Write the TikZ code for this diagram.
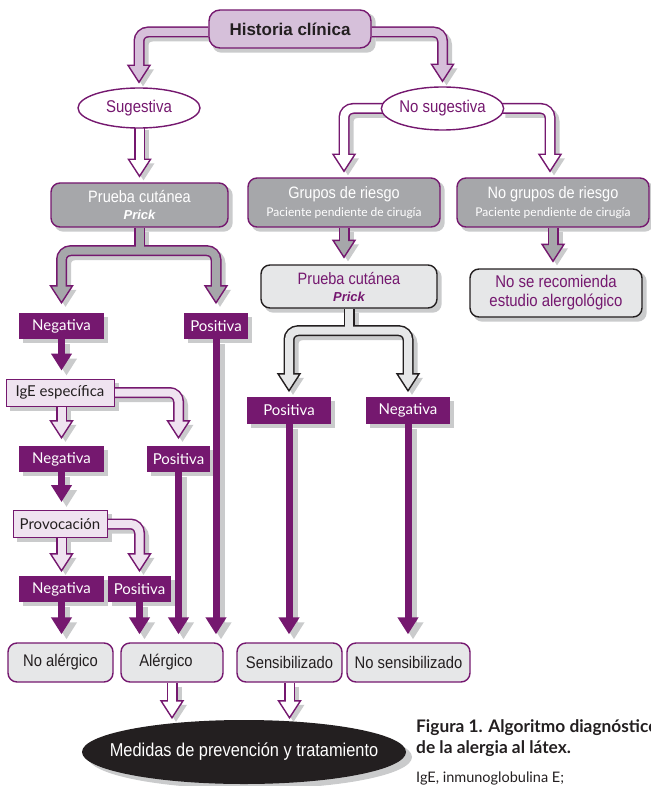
\documentclass[tikz,border=0pt]{standalone}
\usepackage{fontspec}
\setmainfont{Liberation Sans}
\newfontfamily\cond[FakeStretch=0.88]{Liberation Sans}
\newfontfamily\hum{Lato}
\newfontfamily\capt{Lato}
\usetikzlibrary{arrows.meta,shapes.geometric}

\definecolor{purp}{HTML}{75186F}
\definecolor{lilac}{HTML}{D6C0DA}
\definecolor{lilacpale}{HTML}{EFE3F0}
\definecolor{boxgray}{HTML}{A6A7AA}
\definecolor{palegray}{HTML}{E6E7E8}
\definecolor{shadowc}{HTML}{CACBCC}
\definecolor{ink}{HTML}{231F20}

\pgfdeclarelayer{shadowL}
\pgfdeclarelayer{outlineL}
\pgfdeclarelayer{headL}
\pgfdeclarelayer{fillL}
\pgfsetlayers{shadowL,outlineL,headL,fillL,main}

\tikzset{
  hout/.style={line width=11pt, rounded corners=9pt},
  hin/.style={line width=8pt, rounded corners=9pt},
  hhead/.style={line width=1.4pt, line join=miter},
  solidar/.style={line width=7pt, -{Triangle[width=20pt,length=17pt]}, shorten >=8pt},
  shiftshadow/.style={transform canvas={xshift=4pt,yshift=-4pt}},
  rbox/.style={rectangle, rounded corners=9pt, line width=1.4pt, inner sep=0pt, align=center},
  hcbox/.style={rbox, rounded corners=11pt, fill=lilac, draw=purp, text=ink,
    minimum width=162pt, minimum height=38pt, font=\bfseries\fontsize{17}{19}\selectfont},
  ellbox/.style={ellipse, draw=purp, fill=white, line width=1.4pt, inner sep=0pt,
    text=purp, font=\cond\fontsize{17}{19}\selectfont},
  graybox/.style={rbox, fill=boxgray, draw=purp, text=white, font=\cond\fontsize{16.5}{17.5}\selectfont},
  palebox/.style={rbox, fill=palegray, draw=ink, text=purp, font=\cond\fontsize{16.5}{17}\selectfont},
  endbox/.style={rbox, fill=palegray, draw=purp, text=ink, minimum height=39pt,
    font=\cond\fontsize{16.8}{18}\selectfont},
  lab/.style={rectangle, fill=purp, text=white, minimum height=26pt, inner sep=0pt,
    font=\hum\fontsize{15}{16}\selectfont},
  stepbox/.style={rectangle, fill=lilacpale, draw=purp, line width=1pt, minimum height=27pt,
    inner sep=0pt, text=ink, font=\hum\fontsize{15}{16}\selectfont},
  medbox/.style={ellipse, fill=ink, text=white, minimum width=324pt, minimum height=64pt,
    inner sep=0pt, font=\cond\fontsize{18.6}{20}\selectfont},
  captbold/.style={anchor=base west, inner sep=0pt, text=ink, font=\capt\bfseries\fontsize{17.3}{19}\selectfont},
  captnote/.style={anchor=base west, inner sep=0pt, text=ink, font=\capt\fontsize{14.5}{16}\selectfont}
}

% hollow arrow: fill, outline colour, path ending at the tip, tip
\newcommand\harrow[4]{%
  \begin{pgfonlayer}{shadowL}
    \draw[shadowc, hout, shorten >=15pt, shiftshadow] #3;
    \fill[shadowc, shiftshadow] (#4) ++(-11,-17) -- ++(22,0) -- (#4) -- cycle;
  \end{pgfonlayer}
  \begin{pgfonlayer}{outlineL}
    \draw[#2, hout, shorten >=15pt] #3;
  \end{pgfonlayer}
  \begin{pgfonlayer}{headL}
    \filldraw[fill=#1, draw=#2, hhead] (#4) ++(-11,-17) -- ++(22,0) -- (#4) -- cycle;
  \end{pgfonlayer}
  \begin{pgfonlayer}{fillL}
    \draw[#1, hin, shorten >=14pt] #3;
  \end{pgfonlayer}
}

% hollow stem without a head
\newcommand\hstem[3]{%
  \begin{pgfonlayer}{shadowL}
    \draw[shadowc, hout, shiftshadow] #3;
  \end{pgfonlayer}
  \begin{pgfonlayer}{outlineL}
    \draw[#2, hout] #3;
  \end{pgfonlayer}
  \begin{pgfonlayer}{fillL}
    \draw[#1, hin] #3;
  \end{pgfonlayer}
}

% hollow fork: fill, outline, left tip, right tip, junction
\newcommand\hband[5]{%
  \begin{pgfonlayer}{shadowL}
    \draw[shadowc, hout, shorten <=15pt, shorten >=15pt, shiftshadow]
      (#3) -- (#3 |- #5) -- (#4 |- #5) -- (#4);
    \fill[shadowc, shiftshadow] (#3) ++(-11,-17) -- ++(22,0) -- (#3) -- cycle;
    \fill[shadowc, shiftshadow] (#4) ++(-11,-17) -- ++(22,0) -- (#4) -- cycle;
  \end{pgfonlayer}
  \begin{pgfonlayer}{outlineL}
    \draw[#2, hout, shorten <=15pt, shorten >=15pt] (#3) -- (#3 |- #5) -- (#4 |- #5) -- (#4);
  \end{pgfonlayer}
  \begin{pgfonlayer}{headL}
    \filldraw[fill=#1, draw=#2, hhead] (#3) ++(-11,-17) -- ++(22,0) -- (#3) -- cycle;
    \filldraw[fill=#1, draw=#2, hhead] (#4) ++(-11,-17) -- ++(22,0) -- (#4) -- cycle;
  \end{pgfonlayer}
  \begin{pgfonlayer}{fillL}
    \draw[#1, hin, shorten <=14pt, shorten >=14pt] (#3) -- (#3 |- #5) -- (#4 |- #5) -- (#4);
  \end{pgfonlayer}
}

% solid purple arrow with its shadow
\newcommand\sarrow[2]{%
  \begin{pgfonlayer}{shadowL}
    \draw[solidar, shadowc, transform canvas={xshift=5pt,yshift=-5pt}] #1 -- #2;
  \end{pgfonlayer}
  \begin{pgfonlayer}{outlineL}
    \draw[solidar, purp] #1 -- #2;
  \end{pgfonlayer}
}

\begin{document}
\begin{tikzpicture}[x=1pt,y=-1pt]
\useasboundingbox (0,0) rectangle (650,786);

% ---- boxes ----
\node[hcbox] (hc) at (290,29) {Historia clínica};
\node[ellbox, minimum width=122pt, minimum height=40pt] (sug) at (139,108) {Sugestiva};
\node[ellbox, minimum width=119pt, minimum height=43pt] (ns) at (442.5,108.5) {No sugestiva};

\node[graybox, minimum width=177pt, minimum height=44pt] (pc) at (139.5,205)
  {Prueba cutánea\\{\rmfamily\bfseries\itshape\fontsize{13}{17.5}\selectfont Prick}};
\node[graybox, minimum width=192pt, minimum height=49pt] (gr) at (344,202.5)
  {Grupos de riesgo\\{\hum\fontsize{12}{17.5}\selectfont Paciente pendiente de cirugía}};
\node[graybox, minimum width=192pt, minimum height=49pt] (ngr) at (553,202.5)
  {No grupos de riesgo\\{\hum\fontsize{12}{17.5}\selectfont Paciente pendiente de cirugía}};

\node[palebox, minimum width=176pt, minimum height=43pt] (pc2) at (349,286.5)
  {Prueba cutánea\\{\rmfamily\bfseries\itshape\fontsize{13}{17}\selectfont Prick}};
\node[palebox, minimum width=172pt, minimum height=48pt, font=\cond\fontsize{17}{19}\selectfont] (nsr) at (556,293)
  {No se recomienda\\estudio alergológico};

\node[lab, minimum width=85pt] (n1) at (61.5,326) {Negativa};
\node[lab, minimum width=64pt] (p1) at (216,326) {Positiva};
\node[stepbox, minimum width=108pt] (ige) at (60,392.5) {IgE específica};
\node[lab, minimum width=85pt] (n2) at (61.5,459) {Negativa};
\node[lab, minimum width=63pt] (p2) at (178.5,459) {Positiva};
\node[stepbox, minimum width=94pt] (prov) at (60,524) {Provocación};
\node[lab, minimum width=85pt] (n3) at (61.5,589) {Negativa};
\node[lab, minimum width=63pt] (p3) at (139.5,589) {Positiva};
\node[lab, minimum width=84pt, minimum height=27pt] (p4) at (289,410.5) {Positiva};
\node[lab, minimum width=84pt, minimum height=27pt] (n4) at (408,410.5) {Negativa};

\node[endbox, minimum width=105pt] (noal) at (60.5,662.5) {No alérgico};
\node[endbox, minimum width=102pt] (alerg) at (172,662.5) {\hspace*{-12pt}Alérgico};
\node[endbox, minimum width=105pt] (sens) at (289.5,662.5) {Sensibilizado};
\node[endbox, minimum width=123pt] (nsens) at (408.5,662.5) {No sensibilizado};

\node[medbox] (med) at (244,752) {\makebox[0pt]{Medidas de prevención y tratamiento}};

% ---- caption ----
\node[captbold] (cap1) at (416,732) {Figura 1. Algoritmo diagnóstico};
\node[captbold] (cap2) at (416,753) {de la alergia al látex.};
\node[captnote] (cap3) at (416,782) {IgE, inmunoglobulina E;};

% ---- arrow tips and junctions ----
\path (sug.north) ++(0,-5) coordinate (tS);
\path (ns.north) ++(0,-5) coordinate (tNS);
\path (pc.north) ++(0,-6) coordinate (tPC);
\path (gr.north) ++(0,-6) coordinate (tGR);
\path (ngr.north) ++(-3,-6) coordinate (tNG);
\path (gr.south |- pc2.north) ++(0,-7) coordinate (tPC2);
\path (ngr.south |- nsr.north) ++(0,-7) coordinate (tNSR);
\path (pc.south) ++(0,23) coordinate (j1);
\path (n1.north) ++(0,-10) coordinate (tN1);
\path (p1.north) ++(0,-10) coordinate (tP1);
\path (n2.north) ++(0,-8) coordinate (tN2);
\path (p2.north) ++(0,-8) coordinate (tP2);
\path (n3.north) ++(0,-5) coordinate (tN3);
\path (p3.north) ++(0,-5) coordinate (tP3);
\path (pc2.south) ++(0,22) coordinate (j2);
\path (p4.north) ++(0,-6) coordinate (tP4);
\path (n4.north) ++(0,-6) coordinate (tN4);
\path (alerg.south |- med.north) ++(0,-2) coordinate (tM1);
\path (sens.south |- med.north) ++(0,-2) coordinate (tM2);

% ---- box shadows ----
\begin{pgfonlayer}{shadowL}
  \begin{scope}[shiftshadow]
    \foreach \n in {hc,pc,gr,ngr,pc2,nsr}
      \fill[shadowc, rounded corners=9pt] (\n.south west) rectangle (\n.north east);
    \foreach \n in {n1,p1,n2,p2,n3,p3,p4,n4,ige,prov}
      \fill[shadowc] (\n.south west) rectangle (\n.north east);
  \end{scope}
  \fill[shadowc, transform canvas={xshift=6pt,yshift=-5pt}] (med.center) ellipse (162pt and 32pt);
\end{pgfonlayer}

% ---- hollow arrows ----
\harrow{lilac}{purp}{([yshift=-3pt]hc.west) -| (tS)}{tS}
\harrow{lilac}{purp}{([yshift=-3pt]hc.east) -| (tNS)}{tNS}
\harrow{white}{purp}{([yshift=3pt]tPC |- sug.south) -- (tPC)}{tPC}
\harrow{white}{purp}{([xshift=3pt]ns.west) -| (tGR)}{tGR}
\harrow{white}{purp}{([xshift=-3pt]ns.east) -| (tNG)}{tNG}
\harrow{boxgray}{purp}{(tPC2 |- gr.south) -- (tPC2)}{tPC2}
\harrow{boxgray}{purp}{(tNSR |- ngr.south) -- (tNSR)}{tNSR}
\hstem{boxgray}{purp}{(pc.south) -- (j1)}
\hband{boxgray}{purp}{tN1}{tP1}{j1}
\harrow{lilacpale}{purp}{(tN2 |- ige.south) -- (tN2)}{tN2}
\harrow{lilacpale}{purp}{(ige.east) -| (tP2)}{tP2}
\harrow{lilacpale}{purp}{(tN3 |- prov.south) -- (tN3)}{tN3}
\harrow{lilacpale}{purp}{(prov.east) -| (tP3)}{tP3}
\hstem{palegray}{ink}{(pc2.south) -- (j2)}
\hband{palegray}{ink}{tP4}{tN4}{j2}
\harrow{white}{purp}{(alerg.south) -- (tM1)}{tM1}
\harrow{white}{purp}{(sens.south) -- (tM2)}{tM2}

% ---- solid arrows ----
\sarrow{(n1.south)}{(n1.south |- ige.north)}
\sarrow{(p1.south)}{(p1.south |- alerg.north)}
\sarrow{(n2.south)}{(n2.south |- prov.north)}
\sarrow{(p2.south)}{(p2.south |- alerg.north)}
\sarrow{(n3.south)}{(n3.south |- noal.north)}
\sarrow{(p3.south)}{(p3.south |- alerg.north)}
\sarrow{(p4.south)}{(p4.south |- sens.north)}
\sarrow{(n4.south)}{(n4.south |- nsens.north)}
\end{tikzpicture}
\end{document}
